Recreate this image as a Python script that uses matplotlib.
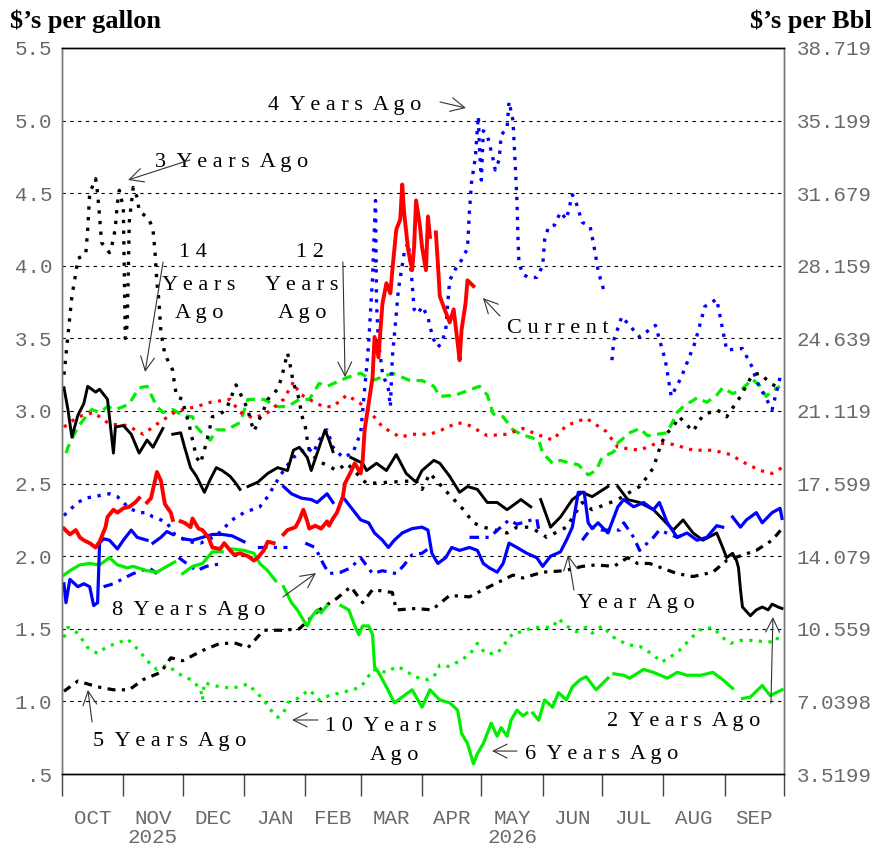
"""
历年汽油价格季节走势对比图 ($/gallon 与 $/Bbl 双轴)
输出: out.png
"""
import numpy as np
import matplotlib
matplotlib.use('Agg')
import matplotlib.pyplot as plt

nan = np.nan

# x 轴: 自 10 月 1 日起的天数
month_starts = [0, 31, 61, 92, 123, 151, 182, 212, 243, 273, 304, 335, 365]
month_labels = ['OCT', 'NOV\n2025', 'DEC', 'JAN', 'FEB', 'MAR', 'APR',
                'MAY\n2026', 'JUN', 'JUL', 'AUG', 'SEP']

gal_ticks = [0.5, 1.0, 1.5, 2.0, 2.5, 3.0, 3.5, 4.0, 4.5, 5.0, 5.5]
gal_labels = ['.5', '1.0', '1.5', '2.0', '2.5', '3.0', '3.5', '4.0', '4.5', '5.0', '5.5']
bbl_labels = ['3.5199', '7.0398', '10.559', '14.079', '17.599', '21.119',
              '24.639', '28.159', '31.679', '35.199', '38.719']

# 各年份曲线 (day, $/gal)
current = [(1, 2.19), (4, 2.15), (7, 2.18), (9, 2.13), (11, 2.11), (14, 2.09), (17, 2.06), (19, 2.10),
           (22, 2.20), (23, 2.27), (26, 2.32), (28, 2.30), (31, 2.33), (34, 2.34), (37, 2.37), (39, 2.40),
           (41, nan), (43, 2.37), (45, 2.40), (48, 2.58), (50, 2.52), (52, 2.36), (55, 2.30), (56, 2.25),
           (58, nan), (60, 2.24), (62, 2.23), (65, 2.20), (66, 2.26), (69, 2.19), (71, 2.18), (74, 2.13),
           (76, 2.06), (80, 2.05), (82, 2.09), (85, 2.04), (87, 2.01), (90, 2.02), (94, 2.00), (97, 1.97),
           (99, 1.99), (102, 2.04), (104, 2.10), (107, 2.09), (110, nan), (112, 2.15), (114, 2.18),
           (118, 2.20), (120, 2.25), (122, 2.32), (124, 2.24), (125, 2.19), (128, 2.21), (131, 2.19),
           (134, 2.24), (135, 2.21), (137, 2.26), (139, 2.30), (142, 2.41), (143, 2.50), (146, 2.58),
           (148, 2.64), (151, 2.57), (152, 2.66), (153, 2.87), (155, 3.05), (157, 3.23), (158, 3.51),
           (160, 3.37), (161, 3.56), (162, 3.74), (164, 3.88), (166, 3.81), (167, 3.97), (169, 4.25),
           (171, 4.32), (172, 4.56), (173, 4.36), (175, 4.11), (177, 3.97), (178, 4.13), (179, 4.45),
           (181, 4.27), (182, 4.13), (184, 3.97), (185, 4.34), (186, 4.20), (187, nan), (189, 4.23),
           (190, 4.02), (191, 3.79), (194, 3.68), (196, 3.61), (198, 3.70), (200, 3.47), (201, 3.35),
           (202, 3.56), (204, 3.74), (205, 3.90), (208, 3.86)]

red_dotted = [(1, 2.89), (8, 2.96), (16, 2.99), (24, 2.91), (33, 2.90), (41, 2.84), (48, 2.91), (58, 3.00),
              (68, 3.03), (75, 3.06), (85, 3.08), (90, 2.99), (97, 2.95), (104, 2.99), (112, 3.08),
              (117, 3.20), (120, 3.12), (125, 3.08), (132, 3.03), (137, 3.03), (144, 3.11), (151, 3.05),
              (156, 2.99), (162, 2.89), (171, 2.82), (177, 2.84), (186, 2.84), (192, 2.87), (200, 2.92),
              (206, 2.90), (215, 2.83), (225, 2.84), (233, 2.88), (240, 2.84), (248, 2.80), (255, 2.90),
              (265, 2.95), (275, 2.86), (281, 2.75), (292, 2.73), (301, 2.78), (309, 2.77), (319, 2.73),
              (329, 2.73), (338, 2.70), (344, 2.65), (353, 2.59), (359, 2.57), (364, 2.61)]

two_years_ago = [(1, 3.16), (3, 3.01), (5, 2.82), (8, 2.97), (11, 3.05), (13, 3.17), (17, 3.13), (19, 3.15),
                 (23, 3.08), (26, 2.71), (27, 2.89), (31, 2.90), (35, 2.84), (39, 2.71), (43, 2.80),
                 (46, 2.75), (51, 2.88), (53, nan), (56, 2.84), (60, 2.85), (62, 2.75), (65, 2.61),
                 (68, 2.55), (72, 2.44), (75, 2.53), (78, 2.61), (81, 2.59), (85, 2.55), (88, 2.50),
                 (90, 2.46), (92, nan), (94, 2.48), (99, 2.51), (104, 2.57), (109, 2.61), (114, 2.59),
                 (117, 2.73), (120, 2.75), (124, 2.68), (126, 2.59), (129, 2.71), (133, 2.87), (135, 2.80),
                 (137, 2.72), (140, nan), (146, 2.68), (149, 2.66), (152, 2.64), (154, 2.59), (159, 2.64),
                 (164, 2.59), (169, 2.70), (174, 2.57), (179, 2.51), (182, 2.59), (188, 2.66), (191, 2.64),
                 (196, 2.55), (201, 2.44), (205, 2.48), (210, 2.46), (215, 2.37), (220, 2.37), (225, 2.32),
                 (232, 2.39), (237, 2.34), (240, nan), (242, 2.39), (247, 2.20), (252, 2.27), (258, 2.39),
                 (263, 2.44), (268, 2.41), (276, 2.48), (278, nan), (281, 2.48), (286, 2.39), (292, 2.37),
                 (299, 2.32), (304, 2.25), (309, 2.18), (314, 2.25), (319, 2.16), (324, 2.11), (331, 2.16),
                 (334, 2.06), (336, 1.99), (339, 2.02), (341, 1.97), (342, 1.92), (343, 1.77), (344, 1.65),
                 (348, 1.59), (351, 1.63), (354, 1.65), (357, 1.63), (359, 1.67), (362, 1.65), (364, 1.64)]

three_years_ago = [(1, 3.25), (5, 3.79), (7, 3.95), (8, 4.05), (12, 4.08), (13, 4.25), (14, 4.50), (17, 4.60),
                   (18, 4.50), (19, 4.34), (20, 4.16), (24, 4.09), (26, 4.18), (27, 4.27), (28, 4.43),
                   (29, 4.52), (31, 4.40), (32, 3.50), (33, 3.60), (34, 4.30), (36, 4.54), (38, 4.47),
                   (39, 4.38), (44, 4.32), (46, 4.25), (47, 4.10), (48, 3.88), (49, 3.76), (50, 3.54),
                   (51, 3.47), (52, 3.39), (56, 3.28), (57, 3.17), (58, 3.10), (61, 3.08), (62, 3.01),
                   (64, 2.92), (66, 2.80), (68, 2.68), (70, 2.64), (73, 2.78), (76, 2.96), (79, 2.97),
                   (83, 3.01), (88, 3.18), (94, 3.01), (95, 2.95), (97, 2.86), (99, 2.92), (102, 3.01),
                   (104, 3.08), (109, 3.15), (111, 3.23), (114, 3.40), (115, 3.34), (117, 3.19), (120, 3.08),
                   (121, 2.98), (123, 2.89), (124, 2.80), (125, 2.73), (129, 2.66), (139, 2.59), (144, 2.64),
                   (154, 2.50), (166, 2.51), (179, 2.52), (182, 2.46), (186, 2.57), (194, 2.45), (203, 2.32),
                   (208, 2.23), (213, 2.20), (219, 2.18), (225, 2.16), (230, 2.20), (236, 2.20), (242, 2.16),
                   (245, 2.13), (255, 2.20), (263, 2.37), (268, 2.32), (281, 2.39), (287, 2.44), (292, 2.48),
                   (296, 2.55), (299, 2.61), (303, 2.78), (306, 2.85), (309, 2.89), (312, 2.96), (319, 2.86),
                   (324, 2.97), (331, 3.01), (336, 2.96), (343, 3.10), (349, 3.25), (353, 3.26), (358, 3.19),
                   (361, 3.17)]

five_years_ago = [(1, 1.07), (8, 1.14), (18, 1.10), (26, 1.08), (34, 1.08), (41, 1.15), (50, 1.20), (55, 1.30),
                  (61, 1.28), (71, 1.35), (80, 1.40), (88, 1.40), (94, 1.37), (102, 1.49), (111, 1.49),
                  (120, 1.50), (130, 1.63), (139, 1.71), (146, 1.79), (152, 1.68), (157, 1.77), (167, 1.75),
                  (169, 1.63), (179, 1.64), (187, 1.63), (196, 1.73), (206, 1.72), (213, 1.77), (228, 1.87),
                  (233, 1.85), (243, 1.89), (254, 1.90), (263, 1.93), (270, 1.94), (279, 1.93), (286, 1.99),
                  (291, 1.95), (297, 1.95), (311, 1.88), (319, 1.86), (329, 1.89), (336, 1.97), (351, 2.04),
                  (359, 2.11), (364, 2.19)]

year_ago = [(1, 1.81), (2, 1.68), (4, 1.84), (8, 1.79), (11, 1.81), (14, 1.79), (16, 1.66), (18, 1.68),
            (19, 2.09), (21, 2.12), (24, 2.11), (28, 2.05), (31, 2.11), (35, 2.18), (38, 2.13), (43, 2.11),
            (45, nan), (46, 2.09), (50, 2.13), (53, 2.17), (56, 2.15), (58, nan), (61, 2.12), (66, 2.11),
            (71, 2.13), (76, 2.15), (81, 2.15), (86, 2.14), (92, 2.10), (96, nan), (112, 2.48), (116, 2.43),
            (121, 2.40), (126, 2.39), (129, 2.37), (134, 2.43), (137, 2.37), (140, nan), (143, 2.39),
            (147, 2.32), (151, 2.25), (155, 2.23), (158, 2.16), (162, 2.11), (165, 2.06), (168, 2.11),
            (172, 2.16), (177, 2.19), (182, 2.20), (185, 2.18), (187, 2.02), (190, 1.95), (194, 1.99),
            (197, 2.06), (201, 2.04), (206, 2.06), (210, 2.04), (213, 1.95), (216, 1.92), (220, 1.89),
            (223, 1.95), (226, 2.09), (230, 2.06), (235, 2.02), (240, 1.99), (243, 1.93), (247, 2.00),
            (252, 2.03), (255, 2.11), (258, 2.20), (261, 2.44), (264, 2.44), (266, 2.23), (268, 2.19),
            (271, 2.23), (276, 2.16), (281, 2.34), (284, 2.39), (289, 2.34), (294, 2.37), (299, 2.32),
            (302, 2.37), (306, 2.23), (311, 2.13), (316, 2.16), (321, 2.11), (326, 2.13), (331, 2.21),
            (334, 2.20), (336, nan), (339, 2.27), (343, 2.20), (346, 2.25), (351, 2.30), (354, 2.23),
            (359, 2.30), (363, 2.33), (364, 2.26)]

four_years_ago = [(1, 2.28), (4, 2.32), (8, 2.37), (12, 2.40), (16, 2.41), (20, 2.42), (24, 2.43), (28, 2.41),
                  (31, 2.37), (34, 2.33), (39, 2.30), (43, 2.30), (46, 2.27), (50, 2.25), (53, 2.23),
                  (57, 2.15), (64, 2.10), (70, 2.09), (78, 2.14), (86, 2.25), (92, 2.30), (100, 2.34),
                  (104, 2.41), (107, 2.48), (112, 2.59), (117, 2.68), (124, 2.75), (127, 2.71), (130, 2.80),
                  (134, 2.87), (137, 2.75), (142, 2.68), (147, 2.71), (151, 2.85), (152, 3.00), (154, 3.30),
                  (155, 3.46), (156, 3.69), (157, 3.92), (157.5, 4.11), (158, 4.29), (158.5, 4.45),
                  (159, 3.74), (160, 3.47), (161, 3.37), (162, 3.26), (165, 3.15), (166, 3.03), (167, 3.37),
                  (169, 3.67), (170, 3.83), (173, 4.09), (175, 4.16), (176, 4.04), (177, 3.88), (178, 3.70),
                  (180, 3.67), (182, 3.72), (185, 3.65), (186, 3.58), (188, 3.49), (190, 3.44), (192, 3.47),
                  (194, 3.56), (195, 3.74), (196, 3.90), (199, 3.98), (202, 4.04), (205, 4.12), (206, 4.38),
                  (207, 4.57), (209, 4.75), (210, 4.95), (210.5, 5.03), (211, 4.82), (212, 4.59), (213, 4.93),
                  (215, 4.90), (218, 4.73), (219, 4.66), (221, 4.73), (222, 4.90), (225, 4.95), (226, 5.13),
                  (228, 5.00), (229, 4.73), (230, 4.45), (230.5, 4.20), (231, 4.02), (233, 3.94), (236, 3.92),
                  (240, 3.92), (243, 4.00), (244, 4.18), (246, 4.27), (249, 4.28), (252, 4.37), (255, 4.32),
                  (258, 4.49), (260, 4.43), (263, 4.30), (267, 4.27), (269, 4.13), (271, 3.97), (273, 3.87),
                  (274, 3.83), (276, nan), (278, 3.35), (279, 3.49), (283, 3.65), (292, 3.51), (300, 3.59),
                  (305, 3.35), (308, 3.10), (313, 3.23), (320, 3.47), (325, 3.72), (331, 3.77), (336, 3.42),
                  (344, 3.43), (349, 3.30), (351, 3.21), (359, 3.01), (363, 3.23)]

green_dashed = [(2, 2.71), (3, 2.75), (8, 2.89), (12, 2.96), (15, 3.01), (19, 2.99), (23, 3.03), (27, 3.01),
                (31, 3.03), (34, 3.05), (39, 3.16), (43, 3.17), (48, 3.03), (51, 2.99), (56, 3.01), (61, 2.97),
                (66, 2.96), (68, 2.89), (72, 2.83), (75, 2.80), (78, 2.87), (83, 2.87), (90, 2.92), (94, 3.08),
                (102, 3.08), (109, 3.03), (114, 3.03), (120, 3.08), (125, 3.08), (130, 3.19), (134, 3.17),
                (144, 3.23), (151, 3.26), (157, 3.21), (167, 3.26), (176, 3.21), (182, 3.21), (188, 3.17),
                (191, 3.10), (199, 3.11), (205, 3.14), (211, 3.17), (215, 3.11), (218, 2.98), (223, 2.96),
                (228, 2.87), (232, 2.84), (241, 2.80), (243, 2.71), (248, 2.64), (252, 2.66), (257, 2.64),
                (261, 2.63), (266, 2.56), (270, 2.59), (273, 2.68), (279, 2.72), (281, 2.78), (287, 2.85),
                (292, 2.88), (296, 2.83), (306, 2.85), (311, 2.99), (314, 3.03), (321, 3.09), (326, 3.06),
                (331, 3.11), (334, 3.16), (339, 3.12), (343, 3.14), (349, 3.22), (353, 3.17), (356, 3.10),
                (359, 3.14), (363, 3.17)]

six_years_ago = [(1, 1.87), (4, 1.90), (9, 1.94), (14, 1.95), (19, 1.94), (24, 1.99), (28, 1.94), (33, 1.92),
                 (36, 1.93), (43, 1.90), (48, 1.89), (53, 1.93), (57, 1.96), (59, nan), (61, 1.88), (66, 1.93),
                 (71, 1.95), (76, 2.03), (81, 2.03), (83, nan), (86, 2.05), (92, 2.04), (97, 2.02), (100, 1.95),
                 (104, 1.90), (108, 1.83), (110, nan), (112, 1.79), (116, 1.68), (119, 1.63), (122, 1.56),
                 (124, 1.52), (126, 1.58), (129, 1.63), (131, 1.61), (134, 1.66), (138, nan), (141, 1.66),
                 (145, 1.63), (148, 1.52), (150, 1.46), (152, 1.52), (155, 1.52), (157, 1.46), (158, 1.24),
                 (160, 1.20), (162, 1.15), (164, 1.10), (168, 0.99), (172, 1.03), (177, 1.08), (182, 0.96),
                 (186, 1.08), (191, 1.01), (196, 0.99), (200, 0.94), (202, 0.78), (205, 0.71), (208, 0.57),
                 (210, 0.64), (213, 0.71), (217, 0.85), (220, 0.76), (222, 0.82), (225, 0.76), (227, 0.87),
                 (230, 0.94), (233, 0.90), (235, 0.92), (237, nan), (238, 0.92), (241, 0.87), (244, 1.01),
                 (248, 0.96), (251, 1.06), (255, 1.01), (258, 1.10), (262, 1.15), (265, 1.17), (270, 1.08),
                 (276, 1.16), (278, nan), (279, 1.19), (284, 1.18), (287, 1.16), (294, 1.22), (299, 1.20),
                 (306, 1.16), (311, 1.20), (316, 1.18), (323, 1.18), (329, 1.20), (334, 1.15), (339, 1.09),
                 (341, nan), (344, 1.02), (348, 1.03), (354, 1.11), (358, 1.04), (361, 1.06), (364, 1.08)]

ten_years_ago = [(1, 1.44), (3, 1.51), (8, 1.47), (13, 1.37), (18, 1.33), (23, 1.38), (28, 1.40), (33, 1.43),
                 (39, 1.35), (43, 1.28), (48, 1.22), (53, 1.25), (59, 1.19), (65, 1.15), (70, 1.09), (71, 1.01),
                 (72, 1.13), (76, 1.11), (86, 1.09), (94, 1.12), (102, 1.01), (105, 0.95), (109, 0.89),
                 (112, 0.92), (114, 0.99), (119, 1.02), (125, 1.08), (130, 1.01), (135, 1.04), (141, 1.06),
                 (147, 1.08), (151, 1.10), (154, 1.15), (157, 1.22), (164, 1.20), (169, 1.24), (173, 1.22),
                 (178, 1.17), (185, 1.15), (188, 1.17), (191, 1.25), (196, 1.24), (201, 1.28), (206, 1.32),
                 (210, 1.40), (214, 1.33), (220, 1.33), (224, 1.40), (228, 1.47), (233, 1.48), (238, 1.51),
                 (243, 1.51), (248, 1.51), (251, 1.57), (255, 1.52), (260, 1.48), (265, 1.51), (268, 1.47),
                 (273, 1.52), (279, 1.44), (286, 1.39), (292, 1.38), (299, 1.32), (303, 1.27), (307, 1.30),
                 (312, 1.35), (317, 1.42), (322, 1.49), (329, 1.51), (334, 1.44), (338, 1.40), (343, 1.42),
                 (349, 1.42), (356, 1.41), (361, 1.41), (363, 1.48)]

eight_years_ago = [(21, 1.79), (26, 1.81), (33, 1.86), (36, 1.88), (44, 1.92), (48, 1.88), (53, nan), (59, 1.99),
                   (63, 1.95), (68, 1.90), (73, 1.93), (81, 1.95), (86, nan), (99, 2.06), (104, 2.06),
                   (108, 2.06), (114, 2.06), (117, nan), (123, 2.09), (128, 2.06), (132, 1.95), (135, 1.88),
                   (141, 1.89), (146, 1.92), (151, 1.99), (157, 1.88), (162, 1.90), (169, 1.88), (173, 1.94),
                   (177, 2.01), (182, 2.02), (186, 2.06), (190, nan), (206, 2.13), (216, 2.13), (226, 2.25),
                   (230, 2.22), (240, 2.26), (241, 2.18), (244, nan), (263, 2.11), (268, 2.20), (273, 2.18),
                   (282, 2.18), (284, 2.23), (289, 2.13), (292, 2.04), (299, 2.13), (302, 2.18), (311, 2.13),
                   (316, 2.16)]

# 线型: (数据, 颜色, 线型, 线宽, 图层)
SERIES = [
    (ten_years_ago, '#00ee00', (0, (1, 2)), 2.3, 2),
    (six_years_ago, '#00ee00', '-', 2.3, 3),
    (green_dashed, '#00ee00', (0, (3, 2)), 2.3, 2),
    (red_dotted, '#ff0000', (0, (1, 2)), 2.3, 2),
    (five_years_ago, 'black', (0, (2.5, 2, 1, 2)), 2.3, 2),
    (three_years_ago, 'black', (0, (1, 2.2)), 2.4, 2),
    (two_years_ago, 'black', '-', 2.1, 3),
    (eight_years_ago, '#0000ff', (0, (3, 2, 1, 2)), 2.3, 2),
    (four_years_ago, '#0000ff', (0, (1, 2)), 2.4, 2),
    (year_ago, '#0000ff', '-', 2.3, 3),
    (current, '#ff0000', '-', 2.8, 4),
]

# 标注: (文字, x, y, ha)
LABELS = [
    ('4  Y e a r s  A g o', 104.1, 5.073, 'left'),
    ('3  Y e a r s  A g o', 47.0, 4.680, 'left'),
    ('1 4', 66.2, 4.061, 'center'),
    ('Y e a r s', 69.3, 3.833, 'center'),
    ('A g o', 69.3, 3.640, 'center'),
    ('1 2', 125.4, 4.061, 'center'),
    ('Y e a r s', 121.3, 3.833, 'center'),
    ('A g o', 121.3, 3.640, 'center'),
    ('C u r r e n t', 225.0, 3.537, 'left'),
    ('8  Y e a r s  A g o', 25.3, 1.595, 'left'),
    ('Y e a r  A g o', 260.3, 1.643, 'left'),
    ('5  Y e a r s  A g o', 15.7, 0.693, 'left'),
    ('1 0  Y e a r s', 132.9, 0.796, 'left'),
    ('A g o', 155.7, 0.596, 'left'),
    ('6  Y e a r s  A g o', 234.0, 0.603, 'left'),
    ('2  Y e a r s  A g o', 275.5, 0.830, 'left'),
]

# 箭头: (起点, 箭头)
ARROWS = [
    ((191.1, 5.128), (204.2, 5.087)),
    ((64.7, 4.729), (33.4, 4.591)),
    ((51.1, 4.026), (42.0, 3.269)),
    ((142.0, 4.026), (143.1, 3.234)),
    ((221.4, 3.654), (212.8, 3.778)),
    ((111.7, 1.719), (128.4, 1.884)),
    ((258.8, 1.767), (255.8, 2.008)),
    ((15.2, 0.858), (13.1, 1.079)),
    ((129.4, 0.872), (116.3, 0.872)),
    ((230.0, 0.658), (217.4, 0.658)),
    ((358.4, 0.989), (359.4, 1.581)),
]

TICK_COLOR = '#6a6a6a'


def main():
    W, H = 878, 852
    fig = plt.figure(figsize=(W / 100, H / 100), dpi=100)
    fig.patch.set_facecolor('white')
    ax = fig.add_axes([62 / W, 1 - 774 / H, 722 / W, 726 / H])
    ax.set_xlim(0, 365)
    ax.set_ylim(0.5, 5.5)

    # 网格线
    for v in gal_ticks[1:-1]:
        ax.axhline(v, color='black', lw=0.8, ls=(0, (3, 4)), zorder=1)

    for pts, color, ls, lw, z in SERIES:
        xs = [p[0] for p in pts]
        ys = [p[1] for p in pts]
        ax.plot(xs, ys, color=color, linestyle=ls, linewidth=lw, zorder=z)

    for txt, x, y, ha in LABELS:
        ax.text(x, y, txt, ha=ha, va='baseline', fontsize=16,
                family='Liberation Serif', color='black', zorder=6)

    for start, head in ARROWS:
        ax.annotate('', xy=head, xytext=start, zorder=6,
                    arrowprops=dict(arrowstyle='->,head_length=0.5,head_width=0.25',
                                    mutation_scale=20, color='#333333', lw=0.8,
                                    shrinkA=0, shrinkB=0))

    # 左轴
    ax.set_yticks(gal_ticks)
    ax.set_yticklabels(gal_labels)
    ax.tick_params(axis='y', length=0, pad=7, labelsize=15, labelcolor=TICK_COLOR)
    for lbl in ax.get_yticklabels():
        lbl.set_fontfamily('Liberation Mono')

    # x 轴 (月份)
    mids = [(a + b) / 2 for a, b in zip(month_starts[:-1], month_starts[1:])]
    ax.set_xticks(month_starts)
    ax.set_xticklabels([])
    ax.set_xticks(mids, minor=True)
    ax.set_xticklabels(month_labels, minor=True)
    ax.tick_params(axis='x', which='major', length=16, width=1, direction='out', color='#444444')
    ax.tick_params(axis='x', which='minor', length=0, pad=25, labelsize=15, labelcolor=TICK_COLOR)
    for lbl in ax.get_xticklabels(minor=True):
        lbl.set_fontfamily('Liberation Mono')
        lbl.set_linespacing(1.0)

    # 右轴 ($/Bbl)
    ax2 = ax.twinx()
    ax2.set_ylim(0.5, 5.5)
    ax2.set_yticks(gal_ticks)
    ax2.set_yticklabels(bbl_labels)
    ax2.tick_params(axis='y', length=0, pad=9, labelsize=15, labelcolor=TICK_COLOR)
    for lbl in ax2.get_yticklabels():
        lbl.set_fontfamily('Liberation Mono')

    for a in (ax, ax2):
        a.spines['left'].set_color('#777777')
        a.spines['right'].set_color('#777777')
        a.spines['top'].set_color('black')
        a.spines['bottom'].set_color('black')
        for s in a.spines.values():
            s.set_linewidth(1.0)

    fig.text(10 / W, 1 - 28 / H, '$\u2019s per gallon', ha='left', va='baseline',
             fontsize=19, fontweight='bold', family='Liberation Serif')
    fig.text(872 / W, 1 - 28 / H, '$\u2019s per Bbl', ha='right', va='baseline',
             fontsize=19, fontweight='bold', family='Liberation Serif')

    fig.savefig('out.png', dpi=100, facecolor='white')
    plt.close(fig)


if __name__ == '__main__':
    main()
